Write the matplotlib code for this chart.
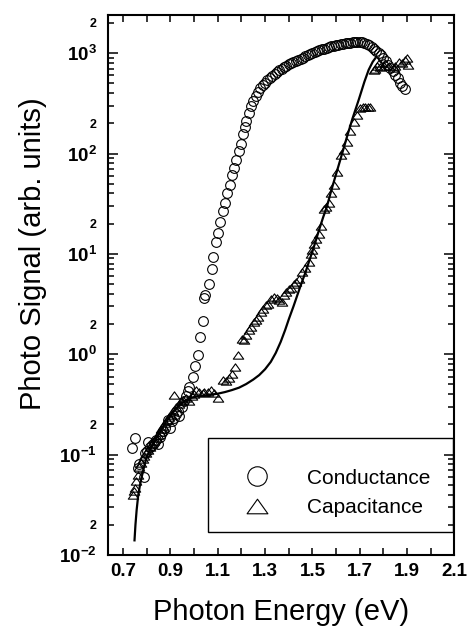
import numpy as np
from matplotlib import pyplot as plt
from matplotlib.path import Path
from matplotlib.ticker import FixedLocator, NullFormatter

plt.rcParams["font.family"] = ["Liberation Sans", "DejaVu Sans"]
plt.rcParams["mathtext.fontset"] = "custom"
plt.rcParams["mathtext.rm"] = "Liberation Sans:bold"
plt.rcParams["mathtext.bf"] = "Liberation Sans:bold"

# conductance (circles)
cond_x = [
    0.739, 0.748, 0.762, 0.769, 0.788, 0.791, 0.800, 0.804, 0.812, 0.820,
    0.830, 0.838, 0.847, 0.855, 0.862, 0.870, 0.878, 0.889, 0.896, 0.905,
    0.915, 0.925, 0.931, 0.938, 0.948, 0.958, 0.966, 0.973, 0.980, 0.994,
    1.005, 1.015, 1.025, 1.036, 1.043, 1.046, 1.061, 1.074, 1.081, 1.092,
    1.102, 1.110, 1.120, 1.132, 1.141, 1.151, 1.162, 1.169, 1.179, 1.188,
    1.197, 1.205, 1.213, 1.220, 1.230, 1.24, 1.25, 1.26, 1.27, 1.28,
    1.29, 1.30, 1.31, 1.32, 1.33, 1.34, 1.35, 1.36, 1.37, 1.38,
    1.39, 1.40, 1.41, 1.42, 1.43, 1.44, 1.45, 1.46, 1.47, 1.48,
    1.49, 1.50, 1.51, 1.52, 1.53, 1.54, 1.55, 1.56, 1.57, 1.58,
    1.59, 1.60, 1.61, 1.62, 1.63, 1.64, 1.65, 1.66, 1.67, 1.68,
    1.69, 1.70, 1.71, 1.72, 1.73, 1.74, 1.75, 1.76, 1.77, 1.78,
    1.79, 1.80, 1.81, 1.82, 1.83, 1.84, 1.85, 1.86, 1.87, 1.88,
    1.89,
]
cond_y = [
    0.116, 0.146, 0.074, 0.080, 0.060, 0.103, 0.108, 0.135, 0.118, 0.125,
    0.132, 0.140, 0.128, 0.150, 0.160, 0.172, 0.185, 0.220, 0.185, 0.215,
    0.230, 0.255, 0.270, 0.240, 0.300, 0.340, 0.380, 0.430, 0.470, 0.600,
    0.770, 0.990, 1.48, 2.13, 3.6, 3.9, 5.0, 7.1, 9.4, 13.0,
    16.1, 21.0, 27.0, 32.0, 40.0, 49.0, 61.0, 72.0, 86.0, 105.0,
    125.0, 155.0, 185.0, 212.0, 255.0, 295.0, 335.0, 375.0, 410.0, 445.0,
    478.0, 510.0, 540.0, 570.0, 598.0, 625.0, 652.0, 678.0, 703.0, 728.0,
    752.0, 775.0, 797.0, 818.0, 840.0, 860.0, 880.0, 900.0, 935.0, 960.0,
    985.0, 1010.0, 1030.0, 1050.0, 1070.0, 1090.0, 1110.0, 1130.0, 1150.0, 1165.0,
    1180.0, 1195.0, 1210.0, 1225.0, 1240.0, 1255.0, 1265.0, 1275.0, 1285.0, 1295.0,
    1300.0, 1300.0, 1290.0, 1270.0, 1240.0, 1200.0, 1160.0, 1110.0, 1060.0, 1010.0,
    960.0, 900.0, 830.0, 765.0, 710.0, 660.0, 610.0, 560.0, 505.0, 470.0,
    435.0,
]

# capacitance (triangles)
cap_x = [
    0.741, 0.745, 0.748, 0.755, 0.762, 0.769, 0.776, 0.783, 0.790, 0.798,
    0.806, 0.814, 0.822, 0.830, 0.838, 0.846, 0.854, 0.862, 0.870, 0.878,
    0.886, 0.894, 0.902, 0.910, 0.917, 0.925, 0.935, 0.945, 0.955, 0.966,
    0.980, 0.990, 1.001, 1.008, 1.022, 1.036, 1.043, 1.057, 1.071, 1.085,
    1.099, 1.120, 1.134, 1.148, 1.162, 1.174, 1.186, 1.204, 1.212, 1.220,
    1.233, 1.242, 1.254, 1.262, 1.270, 1.282, 1.292, 1.303, 1.312, 1.324,
    1.338, 1.350, 1.360, 1.373, 1.380, 1.390, 1.401, 1.410, 1.422, 1.432,
    1.442, 1.457, 1.470, 1.485, 1.492, 1.500, 1.506, 1.515, 1.527, 1.535,
    1.548, 1.556, 1.570, 1.580, 1.591, 1.604, 1.619, 1.633, 1.647, 1.661,
    1.675, 1.689, 1.703, 1.714, 1.724, 1.734, 1.745, 1.759, 1.766, 1.773,
    1.780, 1.787, 1.801, 1.808, 1.822, 1.843, 1.850, 1.864, 1.878, 1.892,
    1.899, 1.906,
]
cap_y = [
    0.040, 0.043, 0.047, 0.055, 0.063, 0.076, 0.082, 0.090, 0.098, 0.105,
    0.112, 0.120, 0.128, 0.138, 0.148, 0.158, 0.168, 0.180, 0.192, 0.205,
    0.220, 0.235, 0.250, 0.270, 0.390, 0.300, 0.320, 0.340, 0.350, 0.370,
    0.340, 0.380, 0.400, 0.445, 0.420, 0.410, 0.420, 0.420, 0.445, 0.410,
    0.370, 0.550, 0.540, 0.575, 0.640, 0.750, 0.980, 1.43, 1.40, 1.55,
    1.73, 1.85, 2.09, 2.20, 2.35, 2.63, 2.80, 3.07, 3.20, 3.57,
    3.71, 3.60, 3.45, 3.31, 3.90, 4.20, 4.49, 4.60, 5.03, 5.20,
    5.60, 6.56, 7.20, 8.26, 10.0, 11.0, 12.6, 14.0, 15.8, 19.1,
    28.0, 29.0, 32.5, 40.0, 49.0, 66.0, 97.0, 109.0, 131.0, 166.0,
    208.0, 243.0, 282.0, 290.0, 294.0, 290.0, 294.0, 680.0, 700.0, 738.0,
    793.0, 720.0, 738.0, 793.0, 738.0, 710.0, 750.0, 822.0, 800.0, 859.0,
    887.0, 766.0,
]

# solid model curve
fit_x = [
    0.748, 0.752, 0.757, 0.763, 0.770, 0.777, 0.787, 0.798, 0.815, 0.840,
    0.860, 0.882, 0.905, 0.924, 0.945, 0.966, 0.985, 1.010, 1.040, 1.070,
    1.100, 1.130, 1.160, 1.190, 1.220, 1.250, 1.275, 1.300, 1.324, 1.345,
    1.366, 1.385, 1.401, 1.420, 1.436, 1.455, 1.471, 1.485, 1.499, 1.513,
    1.527, 1.545, 1.562, 1.580, 1.598, 1.620, 1.647, 1.670, 1.696, 1.720,
    1.738, 1.755, 1.766,
]
fit_y = [
    0.014, 0.020, 0.028, 0.038, 0.048, 0.058, 0.073, 0.092, 0.115, 0.146,
    0.175, 0.214, 0.255, 0.289, 0.320, 0.351, 0.368, 0.380, 0.388, 0.395,
    0.405, 0.420, 0.440, 0.465, 0.505, 0.560, 0.620, 0.710, 0.840, 1.030,
    1.33, 1.75, 2.26, 3.0, 3.86, 5.2, 6.56, 8.3, 10.4, 13.2,
    17.0, 23.0, 30.0, 43.0, 60.0, 90.0, 149.0, 225.0, 344.0, 520.0,
    683.0, 820.0, 890.0,
]

x_ticks = [0.7, 0.9, 1.1, 1.3, 1.5, 1.7, 1.9, 2.1]
x_minor = [0.8, 1.0, 1.2, 1.4, 1.6, 1.8, 2.0]
y_decades = [-2, -1, 0, 1, 2, 3]

# open triangle, wider than tall
tri = Path([(-1.0, -0.7), (1.0, -0.7), (0.0, 0.7), (-1.0, -0.7)],
           [Path.MOVETO, Path.LINETO, Path.LINETO, Path.CLOSEPOLY])


def main() -> None:
    fig = plt.figure(figsize=(4.68, 6.27), dpi=100)
    ax = fig.add_axes([0.2318, 0.1148, 0.7390, 0.8613])

    ax.plot(fit_x, fit_y, color="black", lw=1.6, zorder=3)
    ax.plot(cond_x, cond_y, ls="none", marker="o", ms=7.0, mfc="none",
            mec="black", mew=0.8, label="Conductance", zorder=2)
    ax.plot(cap_x, cap_y, ls="none", marker=tri, ms=7.5, mfc="none",
            mec="black", mew=0.8, label="Capacitance", zorder=2)

    ax.set_yscale("log")
    ax.set_xlim(0.638, 2.1)
    ax.set_ylim(1e-2, 2.4e3)

    ax.xaxis.set_major_locator(FixedLocator(x_ticks))
    ax.set_xticklabels([f"{v:.1f}" for v in x_ticks])
    ax.xaxis.set_minor_locator(FixedLocator(x_minor))
    ax.xaxis.set_minor_formatter(NullFormatter())

    major = [10.0 ** d for d in y_decades]
    ax.set_yticks(major)
    ax.set_yticklabels([rf"$\mathbf{{10^{{{d}}}}}$" for d in y_decades])
    minor = [m * 10.0 ** d for d in y_decades for m in range(2, 10)]
    minor = [v for v in minor if v < 2.4e3]
    ax.set_yticks(minor, minor=True)
    ax.set_yticklabels(["2" if round(v / 10 ** np.floor(np.log10(v))) == 2 else ""
                        for v in minor], minor=True)

    ax.tick_params(axis="both", which="both", direction="in", top=True,
                   right=True, colors="black", width=1.1)
    ax.tick_params(axis="x", which="both", length=5, labelsize=13.5, pad=6)
    ax.tick_params(axis="y", which="major", length=7, labelsize=13.5, pad=8.5)
    ax.tick_params(axis="y", which="minor", length=4, labelsize=9, pad=8.5)
    for lab in ax.get_xticklabels() + ax.get_yticklabels(minor=True):
        lab.set_fontweight("bold")
    for sp in ax.spines.values():
        sp.set_linewidth(1.5)

    ax.set_xlabel("Photon Energy (eV)", fontsize=21)
    ax.xaxis.set_label_coords(0.5, -0.080)
    ax.set_ylabel("Photo Signal (arb. units)", fontsize=21)
    ax.yaxis.set_label_coords(-0.1765, 0.558)

    ax.legend(loc="upper left", bbox_to_anchor=(0.370, 0.1600), frameon=False,
              fontsize=15, borderpad=0, borderaxespad=0, handlelength=2.0,
              handletextpad=1.37, labelspacing=0.5, markerscale=2.0)
    ax.add_patch(plt.Rectangle((0.2888, 0.0426), 0.708, 0.1741,
                               transform=ax.transAxes, fill=False,
                               ec="black", lw=1.0, zorder=4))

    fig.savefig("out.png", dpi=100)


if __name__ == "__main__":
    main()
